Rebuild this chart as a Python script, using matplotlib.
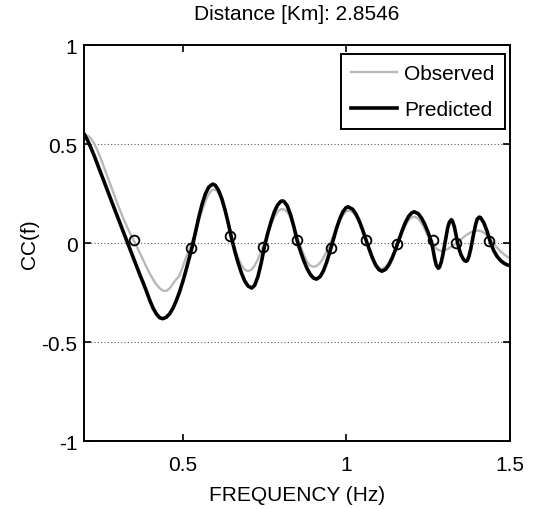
import matplotlib
matplotlib.use("Agg")
import matplotlib.pyplot as plt

plt.rcParams['font.family'] = ['Liberation Sans', 'DejaVu Sans']

title = "Distance [Km]: 2.8546"
xlabel = "FREQUENCY (Hz)"
ylabel = "CC(f)"
series_names = ["Observed", "Predicted"]

x_ticks = [0.5, 1.0, 1.5]
x_ticklabels = ["0.5", "1", "1.5"]
y_ticks = [-1, -0.5, 0, 0.5, 1]
y_ticklabels = ["-1", "-0.5", "0", "0.5", "1"]

obs_freq = [0.20, 0.21, 0.22, 0.23, 0.24, 0.25, 0.26, 0.27, 0.28, 0.29,
            0.30, 0.31, 0.32, 0.33, 0.34, 0.35, 0.36, 0.37, 0.38, 0.39,
            0.40, 0.41, 0.42, 0.43, 0.44, 0.45, 0.46, 0.47, 0.48, 0.49,
            0.50, 0.51, 0.52, 0.53, 0.54, 0.55, 0.56, 0.57, 0.58, 0.59,
            0.60, 0.61, 0.62, 0.63, 0.64, 0.65, 0.66, 0.67, 0.68, 0.69,
            0.70, 0.71, 0.72, 0.73, 0.74, 0.75, 0.76, 0.77, 0.78, 0.79,
            0.80, 0.81, 0.82, 0.83, 0.84, 0.85, 0.86, 0.87, 0.88, 0.89,
            0.90, 0.91, 0.92, 0.93, 0.94, 0.95, 0.96, 0.97, 0.98, 0.99,
            1.00, 1.01, 1.02, 1.03, 1.04, 1.05, 1.06, 1.07, 1.08, 1.09,
            1.10, 1.11, 1.12, 1.13, 1.14, 1.15, 1.16, 1.17, 1.18, 1.19,
            1.20, 1.21, 1.22, 1.23, 1.24, 1.25, 1.26, 1.27, 1.28, 1.29,
            1.30, 1.31, 1.32, 1.33, 1.34, 1.35, 1.36, 1.37, 1.38, 1.39,
            1.40, 1.41, 1.42, 1.43, 1.44, 1.45, 1.46, 1.47, 1.48, 1.49,
            1.50]
obs_cc = [0.55, 0.545, 0.53, 0.505, 0.47, 0.43, 0.385, 0.34, 0.295, 0.25,
          0.205, 0.163, 0.123, 0.085, 0.05, 0.018, -0.015, -0.05, -0.085, -0.12,
          -0.152, -0.182, -0.207, -0.226, -0.238, -0.24, -0.228, -0.205, -0.182, -0.165,
          -0.12, -0.072, -0.03, 0.015, 0.065, 0.12, 0.17, 0.215, 0.25, 0.27,
          0.272, 0.255, 0.215, 0.16, 0.097, 0.035, -0.025, -0.075, -0.11, -0.132,
          -0.14, -0.133, -0.112, -0.08, -0.038, 0.008, 0.052, 0.095, 0.133, 0.16,
          0.173, 0.172, 0.158, 0.128, 0.085, 0.035, -0.013, -0.057, -0.092, -0.112,
          -0.118, -0.113, -0.098, -0.073, -0.04, -0.002, 0.038, 0.078, 0.115, 0.145,
          0.162, 0.167, 0.158, 0.138, 0.107, 0.065, 0.02, -0.025, -0.068, -0.103,
          -0.123, -0.128, -0.118, -0.097, -0.068, -0.03, 0.01, 0.05, 0.088, 0.117,
          0.133, 0.135, 0.125, 0.102, 0.072, 0.038, 0.008, -0.017, -0.032, -0.038,
          -0.036, -0.028, -0.017, -0.005, 0.008, 0.021, 0.034, 0.046, 0.056, 0.062,
          0.065, 0.063, 0.055, 0.04, 0.021, 0.0, -0.02, -0.038, -0.053, -0.065,
          -0.075]

pred_freq = [0.20, 0.21, 0.22, 0.23, 0.24, 0.25, 0.26, 0.27, 0.28, 0.29,
             0.30, 0.31, 0.32, 0.33, 0.34, 0.35, 0.36, 0.37, 0.38, 0.39,
             0.40, 0.41, 0.42, 0.43, 0.439, 0.45, 0.46, 0.47, 0.48, 0.49,
             0.50, 0.51, 0.52, 0.53, 0.54, 0.55, 0.56, 0.57, 0.58, 0.592,
             0.60, 0.61, 0.62, 0.63, 0.64, 0.65, 0.66, 0.67, 0.68, 0.69,
             0.70, 0.711, 0.72, 0.73, 0.74, 0.75, 0.76, 0.77, 0.78, 0.79,
             0.80, 0.805, 0.81, 0.82, 0.83, 0.84, 0.85, 0.86, 0.87, 0.88,
             0.89, 0.90, 0.909, 0.92, 0.93, 0.94, 0.95, 0.96, 0.97, 0.98,
             0.99, 1.00, 1.006, 1.02, 1.03, 1.04, 1.05, 1.06, 1.07, 1.08,
             1.09, 1.10, 1.109, 1.12, 1.13, 1.14, 1.15, 1.16, 1.17, 1.18,
             1.19, 1.20, 1.208, 1.22, 1.23, 1.24, 1.25, 1.26, 1.265, 1.27,
             1.275, 1.281, 1.285, 1.29, 1.295, 1.30, 1.305, 1.31, 1.315, 1.321,
             1.325, 1.33, 1.335, 1.34, 1.345, 1.35, 1.355, 1.36, 1.366, 1.37,
             1.375, 1.38, 1.385, 1.39, 1.395, 1.40, 1.406, 1.41, 1.42, 1.43,
             1.44, 1.45, 1.46, 1.47, 1.48, 1.49, 1.50]
pred_cc = [0.55, 0.52, 0.483, 0.443, 0.40, 0.357, 0.313, 0.27, 0.226, 0.183,
           0.14, 0.097, 0.054, 0.011, -0.032, -0.075, -0.118, -0.16, -0.20, -0.243,
           -0.288, -0.327, -0.356, -0.375, -0.38, -0.373, -0.356, -0.329, -0.292, -0.248,
           -0.196, -0.138, -0.076, -0.013, 0.062, 0.136, 0.201, 0.252, 0.285, 0.30,
           0.294, 0.268, 0.225, 0.167, 0.099, 0.023, -0.042, -0.100, -0.150, -0.190,
           -0.215, -0.225, -0.212, -0.168, -0.100, -0.017, 0.051, 0.109, 0.159, 0.194,
           0.213, 0.215, 0.212, 0.189, 0.144, 0.084, 0.014, -0.039, -0.086, -0.126,
           -0.156, -0.175, -0.18, -0.168, -0.139, -0.095, -0.041, 0.018, 0.075, 0.124,
           0.161, 0.182, 0.185, 0.172, 0.147, 0.112, 0.068, 0.020, -0.029, -0.074,
           -0.110, -0.133, -0.14, -0.131, -0.108, -0.074, -0.032, 0.015, 0.062, 0.104,
           0.136, 0.155, 0.16, 0.150, 0.128, 0.096, 0.055, 0.009, -0.031, -0.077,
           -0.110, -0.125, -0.119, -0.095, -0.057, -0.010, 0.039, 0.081, 0.108, 0.12,
           0.11, 0.085, 0.045, 0.005, -0.03, -0.055, -0.072, -0.085, -0.09, -0.085,
           -0.063, -0.029, 0.014, 0.057, 0.095, 0.123, 0.133, 0.131, 0.105, 0.062,
           0.008, -0.035, -0.064, -0.084, -0.098, -0.107, -0.112]

cross_freq = [0.351, 0.526, 0.644, 0.745, 0.848, 0.954, 1.060, 1.156, 1.264, 1.336, 1.436]
cross_cc = [0.02, -0.025, 0.04, -0.02, 0.02, -0.025, 0.02, -0.005, 0.015, 0.0, 0.01]

fig = plt.figure(figsize=(5.34, 5.10), dpi=100)
ax = fig.add_axes([0.158, 0.1324, 0.797, 0.7765])

for yv in y_ticks[1:-1]:
    ax.axhline(yv, color='0.35', lw=0.8, linestyle=(0, (1, 2)), zorder=1)

ax.plot(obs_freq, obs_cc, color='#b8b8b8', lw=1.7, label=series_names[0], zorder=2)
ax.plot(pred_freq, pred_cc, color='black', lw=2.6, label=series_names[1], zorder=3)
ax.plot(cross_freq, cross_cc, linestyle='none', marker='o', markersize=7,
        markerfacecolor='none', markeredgecolor='black', markeredgewidth=1.3, zorder=4)

ax.set_xlim(0.2, 1.5)
ax.set_ylim(-1, 1)
ax.set_xticks(x_ticks)
ax.set_xticklabels(x_ticklabels)
ax.set_yticks(y_ticks)
ax.set_yticklabels(y_ticklabels)
ax.tick_params(direction='in', top=True, right=True, length=5, width=1.2,
               labelsize=15)
ax.tick_params(axis='x', pad=10)
ax.tick_params(axis='y', pad=5)
for sp in ax.spines.values():
    sp.set_linewidth(1.4)

ax.set_xlabel(xlabel, fontsize=15, labelpad=8)
ax.set_ylabel(ylabel, fontsize=15, labelpad=2)
ax.set_title(title, fontsize=15, pad=19)

leg = ax.legend(loc='upper right', bbox_to_anchor=(0.988, 0.979), fontsize=15,
                fancybox=False, framealpha=1, edgecolor='black',
                handlelength=2.2, borderaxespad=0.0, labelspacing=0.8,
                borderpad=0.5, handletextpad=0.35)
leg.get_frame().set_linewidth(1.4)

fig.savefig("out.png", dpi=100)
